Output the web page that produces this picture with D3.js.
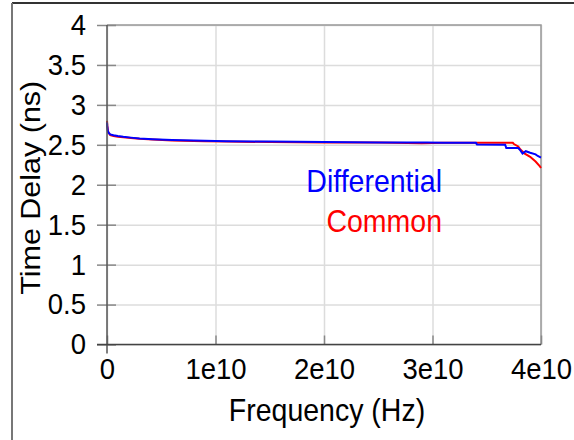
<!DOCTYPE html>
<html>
<head>
<meta charset="utf-8">
<script src="https://cdn.jsdelivr.net/npm/d3@7"></script>
<style>
  html, body { margin: 0; padding: 0; background: #fff; }
  svg { display: block; }
  text { font-family: "Liberation Sans", Arial, sans-serif; }
</style>
</head>
<body>
<div id="chart"></div>
<script>
// Frequency sweep points, in units of 1e10 Hz
const diffFreq = [0, 0.003, 0.008, 0.015, 0.03, 0.06, 0.10, 0.15, 0.22, 0.30, 0.42, 0.60, 0.90, 1.10, 1.50, 2.00, 2.50, 2.95, 3.10, 3.40, 3.41, 3.67, 3.68, 3.79, 3.81, 3.83, 3.86, 3.90, 3.95, 3.97, 4.00];
const diffDelay = [2.78, 2.72, 2.67, 2.65, 2.63, 2.62, 2.61, 2.60, 2.59, 2.58, 2.57, 2.56, 2.55, 2.545, 2.54, 2.535, 2.53, 2.53, 2.525, 2.525, 2.505, 2.50, 2.46, 2.46, 2.43, 2.39, 2.42, 2.40, 2.38, 2.36, 2.34];

const commFreq = [0, 0.003, 0.008, 0.015, 0.03, 0.06, 0.10, 0.15, 0.22, 0.30, 0.42, 0.60, 0.90, 1.10, 1.50, 2.00, 2.50, 2.90, 3.10, 3.74, 3.75, 3.79, 3.81, 3.85, 3.90, 3.95, 3.99, 4.00];
const commDelay = [2.80, 2.74, 2.68, 2.65, 2.62, 2.61, 2.60, 2.595, 2.585, 2.575, 2.565, 2.555, 2.545, 2.54, 2.535, 2.53, 2.53, 2.52, 2.525, 2.525, 2.51, 2.48, 2.44, 2.39, 2.35, 2.29, 2.23, 2.21];

const xTickValues = [0, 1e10, 2e10, 3e10, 4e10];
const xTickLabels = ["0", "1e10", "2e10", "3e10", "4e10"];
const yTickValues = [0, 0.5, 1, 1.5, 2, 2.5, 3, 3.5, 4];
const yTickLabels = ["0", "0.5", "1", "1.5", "2", "2.5", "3", "3.5", "4"];

const seriesNames = ["Differential", "Common"];
const seriesColors = ["#0000ff", "#ff0000"];

const W = 574, H = 440;
const plotL = 107, plotR = 541, plotT = 25, plotB = 344.5;
const stretch = 1.07;   // glyphs are drawn slightly tall

const svg = d3.select("#chart").append("svg")
  .attr("width", W).attr("height", H);

svg.append("rect").attr("width", W).attr("height", H).attr("fill", "#fff");

// outer panel border (open on the right and bottom)
svg.append("line").attr("x1", 12).attr("x2", W).attr("y1", 3).attr("y2", 3)
  .attr("stroke", "#333").attr("stroke-width", 2);
svg.append("line").attr("x1", 12).attr("x2", 12).attr("y1", 3).attr("y2", H)
  .attr("stroke", "#777").attr("stroke-width", 2);

const x = d3.scaleLinear().domain([0, 4e10]).range([plotL, plotR]);
const y = d3.scaleLinear().domain([0, 4]).range([plotB, plotT]);

// grid
svg.append("g").attr("transform", `translate(0,${plotB})`)
  .call(d3.axisBottom(x).tickValues(xTickValues).tickSize(-(plotB - plotT)).tickFormat(""))
  .call(g => g.select(".domain").remove())
  .call(g => g.selectAll(".tick line").attr("stroke", "#dcdcdc").attr("stroke-width", 1.5));
svg.append("g").attr("transform", `translate(${plotL},0)`)
  .call(d3.axisLeft(y).tickValues(yTickValues).tickSize(-(plotR - plotL)).tickFormat(""))
  .call(g => g.select(".domain").remove())
  .call(g => g.selectAll(".tick line").attr("stroke", "#dcdcdc").attr("stroke-width", 1.5));

// plot frame top and right
svg.append("path")
  .attr("d", `M${plotL},${plotT}H${plotR}V${plotB}`)
  .attr("fill", "none").attr("stroke", "#999").attr("stroke-width", 1.5);

// curves
const line = d3.line().x(d => x(d[0] * 1e10)).y(d => y(d[1]));
const commPts = commFreq.map((f, i) => [f, commDelay[i]]);
const diffPts = diffFreq.map((f, i) => [f, diffDelay[i]]);
svg.append("path").datum(commPts).attr("d", line)
  .attr("fill", "none").attr("stroke", seriesColors[1]).attr("stroke-width", 2);
svg.append("path").datum(diffPts).attr("d", line)
  .attr("fill", "none").attr("stroke", seriesColors[0]).attr("stroke-width", 2);

// axes
const yAxis = svg.append("g").attr("transform", `translate(${plotL},0)`)
  .call(d3.axisLeft(y).tickValues(yTickValues).tickFormat((d, i) => yTickLabels[i]).tickPadding(15))
  .call(g => g.select(".domain").remove());
yAxis.selectAll(".tick line").attr("x1", -10).attr("x2", 9).attr("stroke", "#888").attr("stroke-width", 1.5);
yAxis.selectAll(".tick text").attr("font-size", 27.5).attr("fill", "#000")
  .attr("transform", `scale(1,${stretch})`)
  .attr("font-family", "Liberation Sans, Arial, sans-serif");

const xAxis = svg.append("g").attr("transform", `translate(0,${plotB})`)
  .call(d3.axisBottom(x).tickValues(xTickValues).tickFormat((d, i) => xTickLabels[i]))
  .call(g => g.select(".domain").remove());
xAxis.selectAll(".tick line").attr("y1", -9).attr("y2", 0).attr("stroke", "#888").attr("stroke-width", 1.5);
xAxis.selectAll(".tick text").attr("y", 12.5).attr("font-size", 27.5).attr("fill", "#000")
  .attr("transform", `scale(1,${stretch})`)
  .attr("font-family", "Liberation Sans, Arial, sans-serif");

// axis lines
svg.append("line").attr("x1", plotL).attr("x2", plotL).attr("y1", plotT).attr("y2", plotB + 9)
  .attr("stroke", "#555").attr("stroke-width", 1.5);
svg.append("line").attr("x1", plotL - 10).attr("x2", plotR).attr("y1", plotB).attr("y2", plotB)
  .attr("stroke", "#444").attr("stroke-width", 1.5);

// axis titles
svg.append("text").attr("transform", `translate(327,421) scale(1,${stretch})`)
  .attr("text-anchor", "middle").attr("font-size", 28.5).text("Frequency (Hz)");
svg.append("text").attr("transform", `translate(40,${(plotT + plotB) / 2 + 3}) scale(1,${stretch}) rotate(-90)`)
  .attr("text-anchor", "middle").attr("font-size", 28.5).text("Time Delay (ns)");

// series labels
svg.append("text").attr("transform", `translate(442,192) scale(1,${stretch})`).attr("text-anchor", "end")
  .attr("font-size", 28.5).attr("fill", seriesColors[0]).text(seriesNames[0]);
svg.append("text").attr("transform", `translate(442,232) scale(1,${stretch})`).attr("text-anchor", "end")
  .attr("font-size", 28.5).attr("fill", seriesColors[1]).text(seriesNames[1]);
</script>
</body>
</html>
